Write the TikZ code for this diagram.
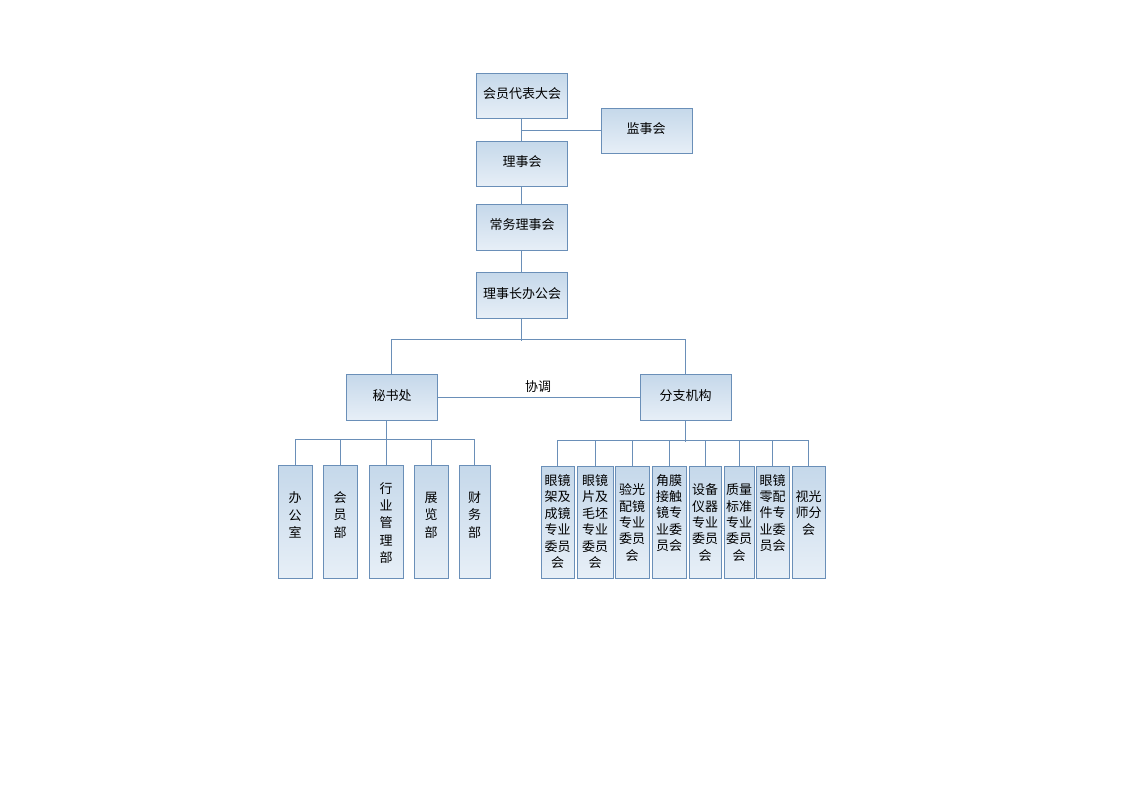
\documentclass[tikz,border=0pt]{standalone}
\usepackage{fontspec}
\setmainfont{Noto Sans CJK SC}
\definecolor{bord}{HTML}{6A8FB8}
\definecolor{ctop}{HTML}{C5D8EA}
\definecolor{cbot}{HTML}{E7EFF7}
\newcommand\mkbox[5]{\node[box, minimum width={(#4-#2)*0.75pt}, minimum height={(#5-#3)*0.75pt}] (#1) at ({(#2+#4)/2},{(#3+#5)/2}) {};}
\begin{document}
\begin{tikzpicture}[x=0.75pt,y=-0.75pt,
  box/.style={draw=bord, line width=0.75pt, top color=ctop, bottom color=cbot, inner sep=0pt, rectangle},
  lbl/.style={inner sep=0pt, align=center, font=\fontsize{9.75pt}{12.3pt}\selectfont, text=black},
  lblv/.style={inner sep=0pt, align=center, font=\fontsize{9.75pt}{13.1pt}\selectfont, text=black},
  conn/.style={draw=bord, line width=0.75pt}]
\useasboundingbox[fill=white] (0,0) rectangle (1123,794);
% top chain
\mkbox{dbdh}{476}{73}{567}{118}
\mkbox{jsh}{601}{108}{692}{153}
\mkbox{lsh}{476}{141}{567}{186}
\mkbox{cwlsh}{476}{204}{567}{250}
\mkbox{bgh}{476}{272}{567}{318}
\mkbox{msc}{346}{374}{437}{420}
\mkbox{fzjg}{640}{374}{731}{420}
\node[lbl] (t1) at (522,93.5) {会员代表大会};
\node[lbl] (t2) at (646,129) {监事会};
\node[lbl] (t3) at (522,162) {理事会};
\node[lbl] (t4) at (522,225) {常务理事会};
\node[lbl] (t5) at (522,294) {理事长办公会};
\node[lbl] (t6) at (392,396) {秘书处};
\node[lbl] (t7) at (685.5,396) {分支机构};
\node[lbl] (xt) at (538,387) {协调};
% left boxes
\mkbox{a1}{278}{465}{312}{578}
\mkbox{a2}{323}{465}{357}{578}
\mkbox{a3}{369}{465}{403}{578}
\mkbox{a4}{414}{465}{448}{578}
\mkbox{a5}{459}{465}{490}{578}
\node[lblv] (ta1) at (295,515) {办\\公\\室};
\node[lblv] (ta2) at (340,515) {会\\员\\部};
\node[lblv] (ta3) at (386,523) {行\\业\\管\\理\\部};
\node[lblv] (ta4) at (431,515) {展\\览\\部};
\node[lblv] (ta5) at (474.5,515) {财\\务\\部};
% right boxes
\mkbox{b1}{541}{466}{574}{578}
\mkbox{b2}{577}{466}{613}{578}
\mkbox{b3}{615}{466}{649}{578}
\mkbox{b4}{652}{466}{686}{578}
\mkbox{b5}{689}{466}{721}{578}
\mkbox{b6}{724}{466}{754}{578}
\mkbox{b7}{756}{466}{789}{578}
\mkbox{b8}{792}{466}{825}{578}
\node[lbl] (tb1) at (557.5,521.5) {眼镜\\架及\\成镜\\专业\\委员\\会};
\node[lbl] (tb2) at (595,521.5) {眼镜\\片及\\毛坯\\专业\\委员\\会};
\node[lbl] (tb3) at (632,522.5) {验光\\配镜\\专业\\委员\\会};
\node[lbl] (tb4) at (669,513) {角膜\\接触\\镜专\\业委\\员会};
\node[lbl] (tb5) at (705,522.5) {设备\\仪器\\专业\\委员\\会};
\node[lbl] (tb6) at (739,522.5) {质量\\标准\\专业\\委员\\会};
\node[lbl] (tb7) at (772.5,513) {眼镜\\零配\\件专\\业委\\员会};
\node[lbl] (tb8) at (808.5,513) {视光\\师分\\会};
% connectors
\draw[conn] (dbdh.south) -- (lsh.north);
\draw[conn] (jsh.west) -- (jsh.west -| lsh.north);
\draw[conn] (lsh.south) -- (cwlsh.north);
\draw[conn] (cwlsh.south) -- (bgh.north);
\draw[conn] (bgh.south) -- ++(0,22);
\draw[conn] (msc.north) -- ++(0,-34) -| (fzjg.north);
\draw[conn] (msc.east) -- (fzjg.west);
\draw[conn] ([xshift=-3.75pt]msc.south) -- ++(0,20);
\draw[conn] (a1.north) -- ++(0,-25) -| (a5.north);
\foreach \n in {a2,a3,a4} \draw[conn] (\n.north) -- ++(0,-25);
\draw[conn] (fzjg.south) -- ++(0,21);
\draw[conn] (b1.north) -- ++(0,-25) -| (b8.north);
\foreach \n in {b2,b3,b4,b5,b6,b7} \draw[conn] (\n.north) -- ++(0,-25);
\end{tikzpicture}
\end{document}
